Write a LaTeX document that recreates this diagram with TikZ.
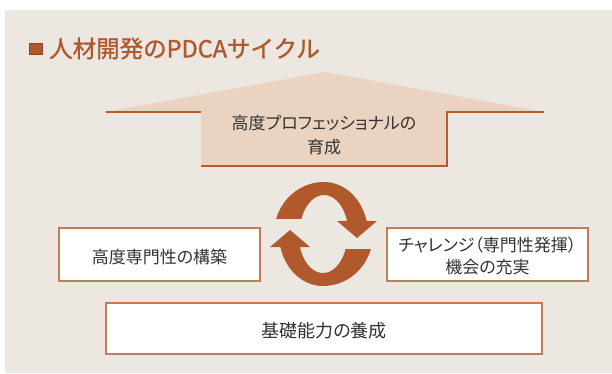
\documentclass[tikz,border=0pt]{standalone}
\usepackage{fontspec}
\newfontfamily\jp[RawFeature=+palt]{Noto Sans CJK JP}
\newfontfamily\jpt[FakeBold=1.3]{Noto Sans CJK JP}
\definecolor{bgc}{HTML}{ECE7E1}
\definecolor{brn}{HTML}{B0592D}
\definecolor{brndk}{HTML}{8E4424}
\definecolor{arrf}{HTML}{EBD3C1}
\definecolor{arrl}{HTML}{B85A2C}
\definecolor{boxl}{HTML}{C27C5C}
\definecolor{txt}{HTML}{333333}
\tikzset{
  box/.style={draw=boxl, line width=1.3pt, fill=white, inner sep=0pt, align=center, text=txt,
    font=\jp\fontsize{17}{22}\selectfont},
  edge/.style={draw=arrl, line width=1.6pt},
}
\begin{document}
\begin{tikzpicture}[x=1pt,y=-1pt]
\useasboundingbox (0,0) rectangle (612,373);
\fill[white] (0,0) rectangle (612,373);
\fill[bgc] (5,10) rectangle (612,373);
% title
\fill[brn, draw=brndk, line width=0.6pt] (29,43) rectangle (42,54);
\node[anchor=west, inner sep=0pt, text=brn, font=\jpt\fontsize{23.5}{28}\selectfont] (title) at (49,48.5) {人材開発のPDCAサイクル};
% big arrow
\fill[arrf] (105,112) -- (325,72) -- (545,112) -- (447,112) -- (447,166) -- (201,166) -- (201,112) -- cycle;
\draw[edge] (106,112) -- (201,112);
\draw[edge] (201,166) -- (447,166) -- (447,112) -- (544,112);
\node[inner sep=0pt, align=center, text=txt, font=\jp\fontsize{17}{24}\selectfont] (grow) at (324,135) {高度プロフェッショナルの\\育成};
% boxes
\node[box, minimum width=201pt, minimum height=53pt, text height=20pt] (left) at (159.5,254.5) {高度専門性の構築};
\node[box, minimum width=201pt, minimum height=53pt, text height=40pt] (right) at (487.5,254.5) {チャレンジ（専門性発揮）\\機会の充実};
\node[box, minimum width=436pt, minimum height=51pt, font=\jp\fontsize{18}{22}\selectfont, text height=19.5pt] (base) at (324,328.5) {基礎能力の養成};
% cycle arrows
\fill[brn] plot[domain=196.8:270, samples=30] ({324+50*cos(\x)},{234+52*sin(\x)})
  -- plot[domain=270:345.5, samples=30] ({324+44*cos(\x)},{234+52*sin(\x)})
  -- (377,221) -- (357,238) -- (337,221)
  -- plot[domain=0:1, samples=40] ({324+24.5*cos(340.5-137.9*\x)},{234+39*sin(340.5-137.9*\x)})
  -- cycle;
\begin{scope}[rotate around={180:(323.5,234)}]
\fill[brn] plot[domain=196.8:270, samples=30] ({324+50*cos(\x)},{234+52*sin(\x)})
  -- plot[domain=270:345.5, samples=30] ({324+44*cos(\x)},{234+52*sin(\x)})
  -- (377,221) -- (357,238) -- (337,221)
  -- plot[domain=0:1, samples=40] ({324+24.5*cos(340.5-137.9*\x)},{234+39*sin(340.5-137.9*\x)})
  -- cycle;
\end{scope}
\end{tikzpicture}
\end{document}
